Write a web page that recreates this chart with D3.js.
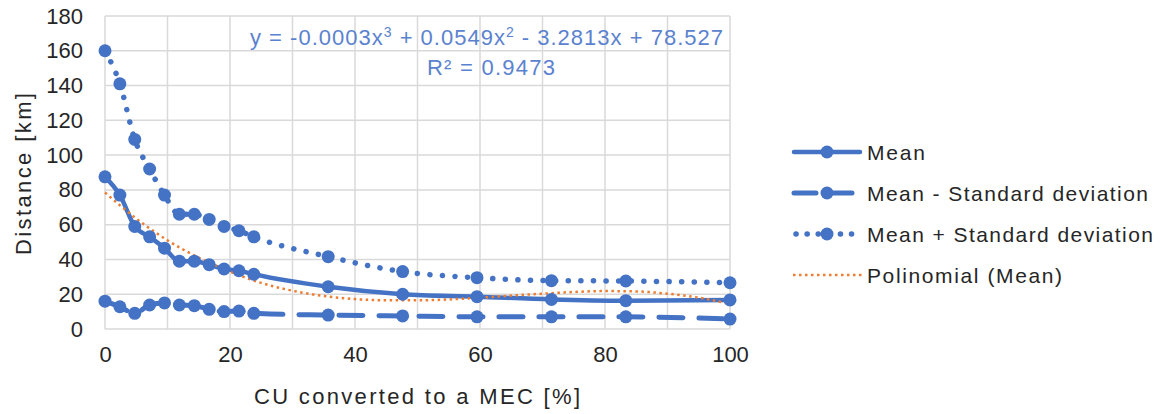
<!DOCTYPE html>
<html><head><meta charset="utf-8">
<script src="https://cdn.jsdelivr.net/npm/d3@7"></script>
<style>
body{margin:0;background:#fff;}
text{font-family:"Liberation Sans",Arial,sans-serif;}
</style></head><body>
<svg id="c" width="1163" height="414"></svg>
<script>
// x positions: CU converted to a MEC [%]
const xValues = [0, 2.38, 4.76, 7.14, 9.52, 11.9, 14.29, 16.67, 19.05, 21.43, 23.81, 35.71, 47.62, 59.52, 71.43, 83.33, 100];
const meanValues = [87.5, 77, 59, 53, 46.5, 39, 39, 37, 34.5, 33.5, 31.5, 24.3, 20, 18.6, 17, 16.3, 16.7];
const meanMinusSD = [16, 12.8, 9, 13.8, 15, 13.8, 13.4, 11.3, 10, 10.3, 9, 8, 7.5, 7, 7, 7, 5.7];
const meanPlusSD = [160, 141, 109, 92, 77, 66, 66, 63, 59, 56.5, 53, 41.6, 33, 29.5, 27.8, 27.6, 26.6];
// polynomial trendline samples
const trendX = [0, 5, 10, 15, 20, 25, 30, 35, 40, 45, 50, 55, 60, 65, 70, 75, 80, 85, 90, 95, 100];
const trendY = [78.5, 63.5, 51, 41, 33, 26.5, 22, 19, 17.2, 16.5, 16.5, 17, 18, 19.2, 20.3, 21.3, 21.8, 21.6, 20.3, 18, 14.5];
const xTicks = [0, 20, 40, 60, 80, 100];
const yTicks = [0, 20, 40, 60, 80, 100, 120, 140, 160, 180];
const seriesNames = ["Mean", "Mean - Standard deviation", "Mean + Standard deviation", "Polinomial (Mean)"];

const blue = "#4472C4", orange = "#ED7D31", grid = "#d9d9d9", ink = "#262626";
const svg = d3.select("#c");
const x = d3.scaleLinear().domain([0, 100]).range([105, 730]);
const y = d3.scaleLinear().domain([0, 180]).range([329, 16]);

// gridlines
const g = svg.append("g");
g.selectAll(".vg").data(d3.range(0, 101, 10)).join("line")
  .attr("x1", d => x(d)).attr("x2", d => x(d)).attr("y1", y(0)).attr("y2", y(180))
  .attr("stroke", grid).attr("stroke-width", 1.5);
g.selectAll(".hg").data(yTicks).join("line")
  .attr("x1", x(0)).attr("x2", x(100)).attr("y1", d => y(d)).attr("y2", d => y(d))
  .attr("stroke", grid).attr("stroke-width", 1.5);

// axes labels via d3 axes
const ax = svg.append("g").attr("transform", `translate(0,${y(0)})`)
  .call(d3.axisBottom(x).tickValues(xTicks).tickSize(0).tickPadding(17));
ax.select(".domain").remove();
ax.attr("font-size", 22).attr("font-family", "Liberation Sans, Arial, sans-serif");
ax.selectAll("text").attr("fill", ink);
const ay = svg.append("g").attr("transform", `translate(${x(0)},0)`)
  .call(d3.axisLeft(y).tickValues(yTicks).tickSize(0).tickPadding(22));
ay.select(".domain").remove();
ay.attr("font-size", 22).attr("font-family", "Liberation Sans, Arial, sans-serif");
ay.selectAll("text").attr("fill", ink);

// axis titles
svg.append("text").attr("x", 417).attr("y", 404).attr("text-anchor", "middle")
  .attr("font-size", 22).attr("fill", ink).attr("textLength", 326).attr("lengthAdjust", "spacing")
  .text("CU converted  to a MEC [%]");
svg.append("text").attr("transform", "translate(31,174) rotate(-90)").attr("text-anchor", "middle")
  .attr("font-size", 22).attr("fill", ink).attr("textLength", 162).attr("lengthAdjust", "spacing")
  .text("Distance [km]");

// lines
const pts = arr => xValues.map((v, i) => [v, arr[i]]);
const curve = d3.line().x(d => x(d[0])).y(d => y(d[1])).curve(d3.curveMonotoneX);

const styles = [
  {data: meanValues, dash: null, w: 4.5, cap: "round"},
  {data: meanMinusSD, dash: "24 16", w: 5, cap: "round"},
  {data: meanPlusSD, dash: "0.1 12.5", w: 5.5, cap: "round"}
];
styles.forEach(s => {
  svg.append("path").datum(pts(s.data)).attr("d", curve).attr("fill", "none")
    .attr("stroke", blue).attr("stroke-width", s.w).attr("stroke-linecap", s.cap)
    .attr("stroke-dasharray", s.dash);
});
// trendline
svg.append("path").datum(trendX.map((v, i) => [v, trendY[i]])).attr("d", curve)
  .attr("fill", "none").attr("stroke", orange).attr("stroke-width", 2.5).attr("stroke-dasharray", "2.5 3.5");
// markers
styles.forEach(s => {
  svg.append("g").selectAll("circle").data(pts(s.data)).join("circle")
    .attr("cx", d => x(d[0])).attr("cy", d => y(d[1])).attr("r", 6.5).attr("fill", blue);
});

// equation
const eq = svg.append("text").attr("x", 250).attr("y", 45).attr("font-size", 22).attr("fill", "#5b82cf")
  .attr("textLength", 473).attr("lengthAdjust", "spacing");
eq.append("tspan").text("y = -0.0003x");
eq.append("tspan").attr("dy", -8).attr("font-size", 14).text("3");
eq.append("tspan").attr("dy", 8).text(" + 0.0549x");
eq.append("tspan").attr("dy", -8).attr("font-size", 14).text("2");
eq.append("tspan").attr("dy", 8).text(" - 3.2813x + 78.527");
svg.append("text").attr("x", 491).attr("y", 75).attr("text-anchor", "middle").attr("font-size", 22)
  .attr("fill", "#5b82cf").attr("textLength", 128).attr("lengthAdjust", "spacing").text("R² = 0.9473");

// legend
const legY = [152, 193, 234, 275];
const legW = [58, 281, 286, 195];
const leg = svg.append("g");
seriesNames.forEach((n, i) => {
  const yy = legY[i];
  if (i < 3) {
    const s = styles[i];
    let dash = s.dash;
    if (i === 1) dash = "22 14";
    if (i === 2) dash = "0.1 11";
    leg.append("line").attr("x1", i === 2 ? 796 : 794).attr("x2", 860).attr("y1", yy).attr("y2", yy)
      .attr("stroke", blue).attr("stroke-width", s.w).attr("stroke-linecap", s.cap).attr("stroke-dasharray", dash);
    leg.append("circle").attr("cx", 827).attr("cy", yy).attr("r", 6.5).attr("fill", blue);
  } else {
    leg.append("line").attr("x1", 793).attr("x2", 862).attr("y1", yy).attr("y2", yy)
      .attr("stroke", orange).attr("stroke-width", 2.5).attr("stroke-dasharray", "2.5 3.5");
  }
  leg.append("text").attr("x", 867).attr("y", yy + 7.5).attr("font-size", 21).attr("fill", ink)
    .attr("textLength", legW[i]).attr("lengthAdjust", "spacing").text(n);
});
</script></body></html>
